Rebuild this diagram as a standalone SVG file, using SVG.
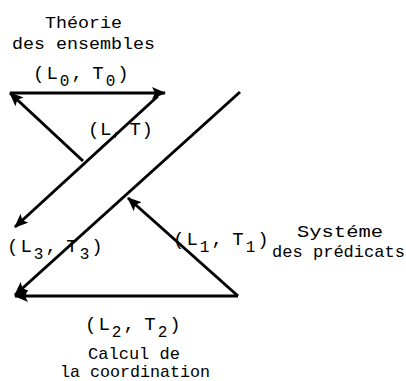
<svg xmlns="http://www.w3.org/2000/svg" width="406" height="381" viewBox="0 0 406 381">
<style>
text{font-family:"Liberation Mono","Courier New",monospace;font-size:17px;fill:#000}
.lab{font-size:19px;letter-spacing:2px;word-spacing:-6px}
.sub{font-size:16px}
line{stroke:#000;stroke-width:3;marker-end:url(#ah)}
</style>
<defs>
<marker id="ah" markerUnits="userSpaceOnUse" markerWidth="14" markerHeight="12" refX="13" refY="6" orient="auto">
<path d="M0,0 L14,6 L0,12 L3,6 z" fill="#000"/>
</marker>
</defs>
<rect width="406" height="381" fill="#fff"/>
<g id="connectors">
<line x1="83" y1="161" x2="10" y2="93"/>
<line x1="10" y1="93" x2="165" y2="93"/>
<line x1="158" y1="96" x2="15" y2="227"/>
<line x1="240" y1="92" x2="15" y2="295"/>
<line x1="238" y1="296" x2="15" y2="296"/>
<line x1="238" y1="296" x2="128" y2="198"/>
</g>
<g id="theorie">
<text x="45" y="28" textLength="77" lengthAdjust="spacingAndGlyphs">Théorie</text>
<text x="12" y="49" textLength="143" lengthAdjust="spacingAndGlyphs">des ensembles</text>
<text class="lab" x="33" y="79">(L<tspan class="sub" dy="7">0</tspan><tspan dy="-7">, T</tspan><tspan class="sub" dy="7">0</tspan><tspan dy="-7">)</tspan></text>
</g>
<g id="lt">
<text class="lab" x="88" y="135" style="letter-spacing:0.5px">(L, T)</text>
</g>
<g id="l3">
<text class="lab" x="7" y="252">(L<tspan class="sub" dy="7">3</tspan><tspan dy="-7">, T</tspan><tspan class="sub" dy="7">3</tspan><tspan dy="-7">)</tspan></text>
</g>
<g id="predicats">
<text class="lab" x="173" y="245">(L<tspan class="sub" dy="7">1</tspan><tspan dy="-7">, T</tspan><tspan class="sub" dy="7">1</tspan><tspan dy="-7">)</tspan></text>
<text x="297" y="237" textLength="86" lengthAdjust="spacingAndGlyphs">Systéme</text>
<text x="272" y="257" textLength="133" lengthAdjust="spacingAndGlyphs">des prédicats</text>
</g>
<g id="coordination">
<text class="lab" x="85" y="330">(L<tspan class="sub" dy="7">2</tspan><tspan dy="-7">, T</tspan><tspan class="sub" dy="7">2</tspan><tspan dy="-7">)</tspan></text>
<text x="88" y="359" textLength="92" lengthAdjust="spacingAndGlyphs">Calcul de</text>
<text x="60" y="377" textLength="150" lengthAdjust="spacingAndGlyphs">la coordination</text>
</g>
</svg>
